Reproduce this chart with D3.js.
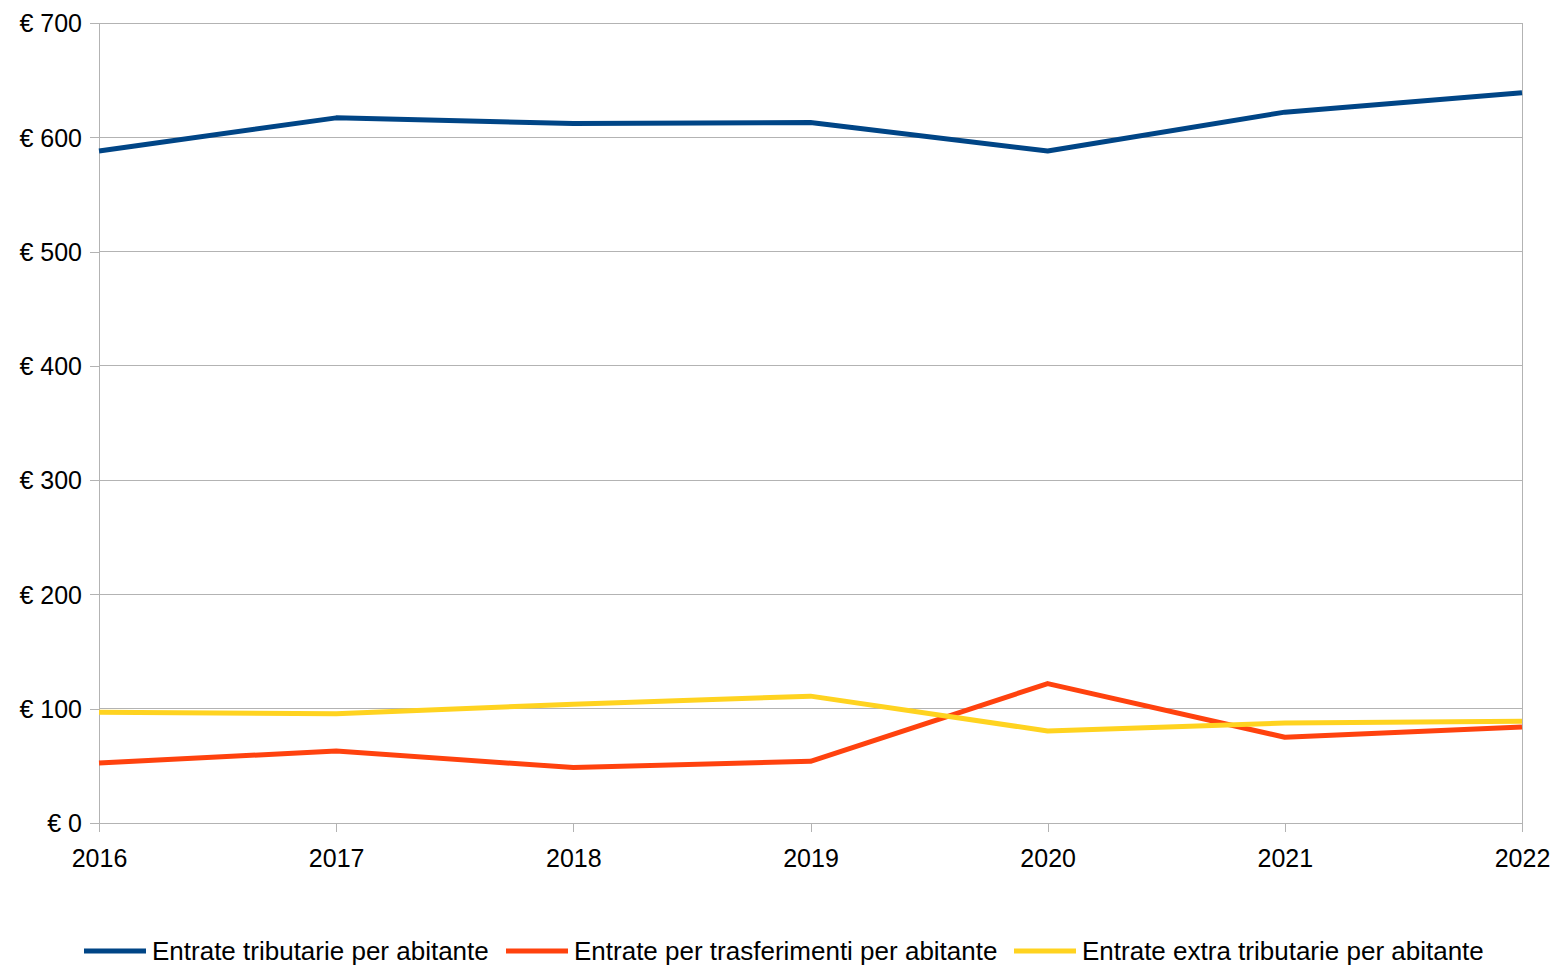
<!DOCTYPE html>
<html><head><meta charset="utf-8">
<script src="https://cdn.jsdelivr.net/npm/d3@7"></script>
<style>body{margin:0;background:#fff}svg{display:block}text{font-family:"Liberation Sans",Arial,sans-serif;fill:#000}</style>
</head><body>
<script>
const years = [2016, 2017, 2018, 2019, 2020, 2021, 2022];
const tributarie = [588, 617, 612, 613, 588, 622, 639];
const trasferimenti = [52.5, 63, 48.5, 54, 122, 75, 84];
const extraTributarie = [97, 95.5, 104, 111, 80.5, 87.5, 89];
const yTicks = [0, 100, 200, 300, 400, 500, 600, 700];
const seriesNames = ["Entrate tributarie per abitante", "Entrate per trasferimenti per abitante", "Entrate extra tributarie per abitante"];
const colors = ["#004586", "#ff420e", "#ffd320"];
const series = [tributarie, trasferimenti, extraTributarie];

const W = 1558, H = 969;
const svg = d3.select("body").append("svg").attr("width", W).attr("height", H);
const x = d3.scalePoint().domain(years).range([99, 1522]);
const y = d3.scaleLinear().domain([0, 700]).range([823, 23]);

// grid
svg.append("g").selectAll("line").data(yTicks).join("line")
  .attr("x1", 99).attr("x2", 1522).attr("y1", d => y(d)).attr("y2", d => y(d))
  .attr("stroke", "#b3b3b3").attr("stroke-width", 1).attr("shape-rendering", "crispEdges");
svg.append("line").attr("x1", 1522).attr("x2", 1522).attr("y1", 23).attr("y2", 823)
  .attr("stroke", "#b3b3b3").attr("shape-rendering", "crispEdges");

const yAxis = svg.append("g").attr("transform", "translate(99,0)")
  .call(d3.axisLeft(y).tickValues(yTicks).tickSize(9).tickPadding(8).tickFormat(d => "€ " + d));
const xAxis = svg.append("g").attr("transform", "translate(0,823)")
  .call(d3.axisBottom(x).tickSize(9).tickPadding(17).tickFormat(d3.format("d")));
[yAxis, xAxis].forEach(a => {
  a.select(".domain").attr("stroke", "#b3b3b3").attr("shape-rendering", "crispEdges");
  a.selectAll(".tick line").attr("stroke", "#b3b3b3").attr("shape-rendering", "crispEdges");
  a.selectAll("text").style("font-size", "25px").attr("fill", "#000");
});
yAxis.selectAll("text").attr("dy", "0.35em");

const line = d3.line().x((d, i) => x(years[i])).y(d => y(d));
svg.append("g").selectAll("path").data(series).join("path")
  .attr("d", d => line(d)).attr("fill", "none")
  .attr("stroke", (d, i) => colors[i]).attr("stroke-width", 5).attr("stroke-linejoin", "round");

// legend
const legX = [84, 506, 1014];
const leg = svg.append("g").selectAll("g").data(seriesNames).join("g")
  .attr("transform", (d, i) => `translate(${legX[i]},951)`);
leg.append("line").attr("x1", 0).attr("x2", 62).attr("y1", 0).attr("y2", 0)
  .attr("stroke", (d, i) => colors[i]).attr("stroke-width", 5);
leg.append("text").attr("x", 68).attr("y", 0).attr("dy", "0.35em")
  .style("font-size", "26px").text(d => d);
</script>
</body></html>
